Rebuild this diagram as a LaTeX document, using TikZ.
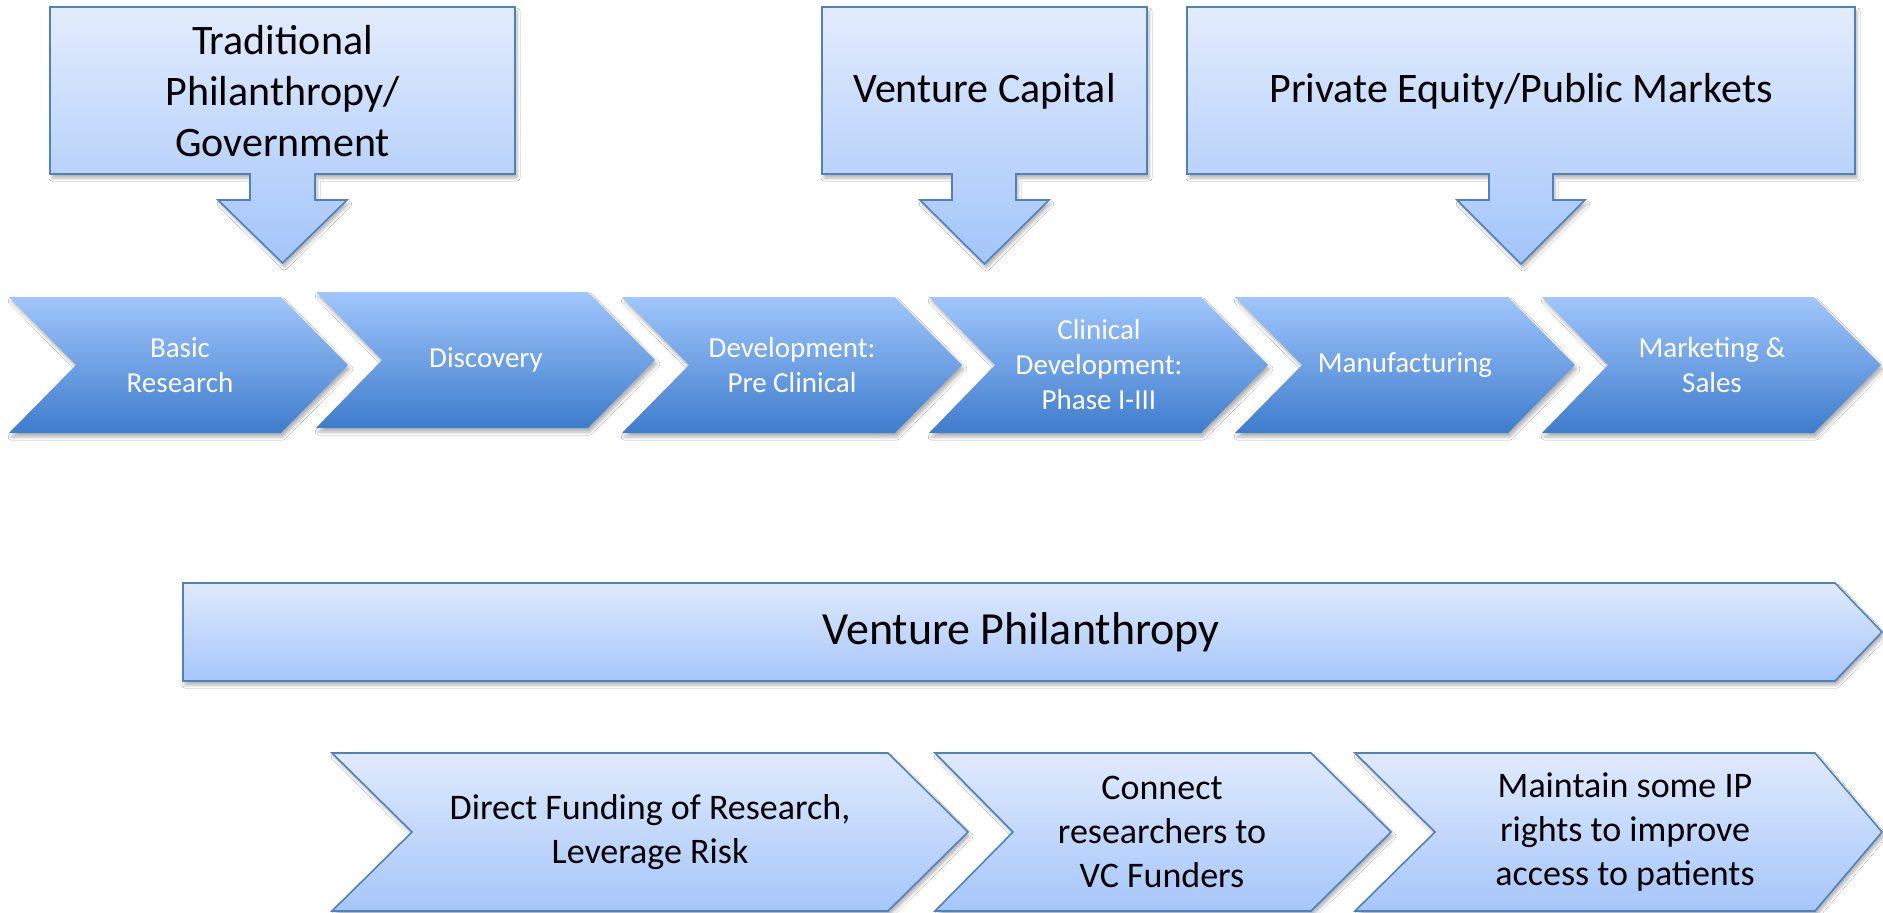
\documentclass[tikz,border=0pt]{standalone}
\usepackage{fontspec}
\setmainfont{Carlito}
\usetikzlibrary{shadows,shadows.blur}
\definecolor{bordc}{RGB}{79,129,189}
\definecolor{boxtop}{RGB}{227,236,253}
\definecolor{boxbot}{RGB}{163,197,250}
\definecolor{chevtop}{RGB}{160,198,252}
\definecolor{chevbot}{RGB}{62,124,204}
\definecolor{vptop}{RGB}{224,234,253}
\definecolor{vpbot}{RGB}{166,198,250}
\tikzset{
  softshadow/.style={blur shadow={shadow xshift=2pt, shadow yshift=-4pt, shadow opacity=30, shadow blur steps=6, shadow blur radius=3pt}},
  callout/.style={draw=bordc, line width=1.6pt, line join=miter, top color=boxtop, bottom color=boxbot, softshadow},
  stage/.style={draw=none, top color=chevtop, bottom color=chevbot, softshadow},
  vpshape/.style={draw=bordc, line width=1.6pt, line join=miter, top color=vptop, bottom color=vpbot, softshadow},
  calltext/.style={align=center, inner sep=0pt, text=black, font=\fontsize{42}{51}\selectfont},
  stagetext/.style={align=center, inner sep=0pt, text=white, font=\fontsize{29}{35}\selectfont},
  vptext/.style={align=center, inner sep=0pt, text=black, font=\fontsize{46}{56}\selectfont},
  acttext/.style={align=center, inner sep=0pt, text=black, font=\fontsize{36}{44}\selectfont},
}
\begin{document}
\begin{tikzpicture}[x=1pt,y=-1pt]
\useasboundingbox (0,0) rectangle (1883,913);
\fill[white] (0,0) rectangle (1883,913);

% ---- funding sources (callouts) ----
\path[callout] (50,7) -- (515,7) -- (515,174) -- (315,174) -- (315,200) -- (347,200)
  -- (282.5,263) -- (218,200) -- (250,200) -- (250,174) -- (50,174) -- cycle;
\path[callout] (822,7) -- (1147,7) -- (1147,174) -- (1016,174) -- (1016,200) -- (1049,200)
  -- (984.5,264) -- (920,200) -- (952,200) -- (952,174) -- (822,174) -- cycle;
\path[callout] (1187,7) -- (1855,7) -- (1855,174) -- (1553,174) -- (1553,200) -- (1585,200)
  -- (1521,264) -- (1457,200) -- (1489,200) -- (1489,174) -- (1187,174) -- cycle;
\node[calltext] (trad) at (282.5,91) {Traditional\\Philanthropy/\\Government};
\node[calltext] (vc) at (984.5,91) {Venture Capital};
\node[calltext] (pe) at (1521,91) {Private Equity/Public Markets};

% ---- value chain stages ----
\path[stage] (9,297) -- (281,297) -- (348,365) -- (281,433) -- (9,433) -- (76,365) -- cycle;
\path[stage] (316,292) -- (588,292) -- (655,360) -- (588,428) -- (316,428) -- (382,360) -- cycle;
\path[stage] (622,297) -- (895,297) -- (962,365) -- (895,433) -- (622,433) -- (689,365) -- cycle;
\path[stage] (929,297) -- (1201,297) -- (1268,365) -- (1201,433) -- (929,433) -- (995,365) -- cycle;
\path[stage] (1235,297) -- (1508,297) -- (1575,365) -- (1508,433) -- (1235,433) -- (1302,365) -- cycle;
\path[stage] (1542,297) -- (1814,297) -- (1881,365) -- (1814,433) -- (1542,433) -- (1608,365) -- cycle;
\node[stagetext] (basic) at (180,365) {Basic\\Research};
\node[stagetext] (disc) at (486,360) {Discovery};
\node[stagetext] (dev) at (792,365) {Development:\\Pre Clinical};
\node[stagetext] (clin) at (1099,365) {Clinical\\Development:\\Phase I-III};
\node[stagetext] (manu) at (1405,365) {Manufacturing};
\node[stagetext] (mark) at (1712,365) {Marketing \&\\Sales};

% ---- venture philanthropy banner ----
\path[vpshape] (183,583) -- (1835,583) -- (1882,632) -- (1835,681) -- (183,681) -- cycle;
\node[vptext] (vp) at (1021,632) {Venture Philanthropy};

% ---- venture philanthropy activities ----
\path[vpshape] (332,753) -- (888,753) -- (968,832) -- (888,911) -- (332,911) -- (412,832) -- cycle;
\path[vpshape] (935,753) -- (1311,753) -- (1391,832) -- (1311,911) -- (935,911) -- (1013,832) -- cycle;
\path[vpshape] (1355,753) -- (1815,753) -- (1882,832) -- (1815,911) -- (1355,911) -- (1435,832) -- cycle;
\node[acttext] (fund) at (650,832) {Direct Funding of Research,\\Leverage Risk};
\node[acttext] (conn) at (1162,832) {Connect\\researchers to\\VC Funders};
\node[acttext] (ip) at (1625,832) {Maintain some IP\\rights to improve\\access to patients};
\end{tikzpicture}
\end{document}
